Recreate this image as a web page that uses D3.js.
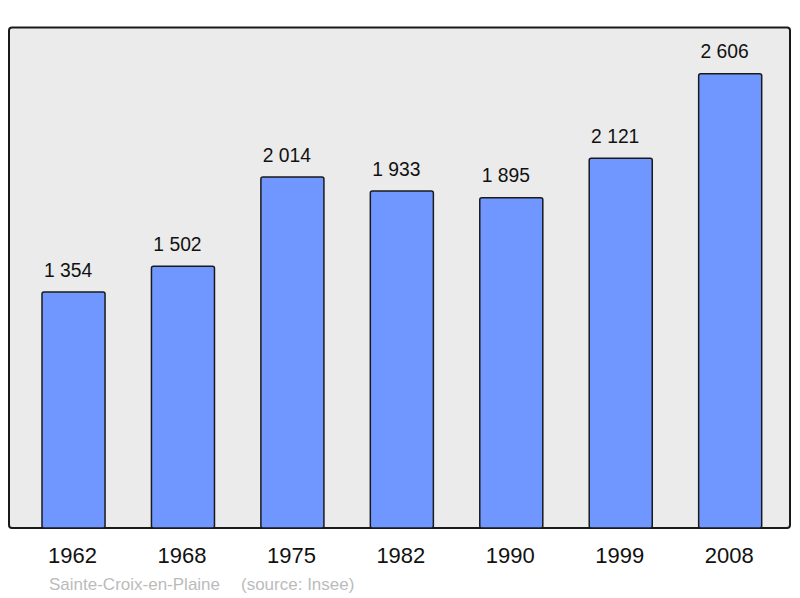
<!DOCTYPE html>
<html><head><meta charset="utf-8">
<script src="https://cdn.jsdelivr.net/npm/d3@7"></script>
<style>body{margin:0;background:#fff}svg{display:block}text{font-family:"Liberation Sans",Arial,sans-serif}</style>
</head><body>
<script>
const years = ["1962","1968","1975","1982","1990","1999","2008"];
const population = [1354,1502,2014,1933,1895,2121,2606];
const commune = "Sainte-Croix-en-Plaine";
const source = "(source: Insee)";

const W=800,H=598;
const svg=d3.select("body").append("svg").attr("width",W).attr("height",H);
const panel={x0:9,x1:790,y0:27.5,y1:528};
svg.append("rect").attr("x",panel.x0).attr("y",panel.y0).attr("width",panel.x1-panel.x0).attr("height",panel.y1-panel.y0)
  .attr("rx",3).attr("fill","#ebebeb").attr("stroke","#1a1a1a").attr("stroke-width",2);

const x=d3.scaleBand().domain(years).range([18.8,784.9]).paddingInner(0.424).paddingOuter(0.212);
const y=d3.scaleLinear().domain([0,2871]).range([panel.y1,panel.y0]);
const fmt=v=>d3.format(",")(v).replace(/,/g," ");

svg.selectAll("rect.bar").data(population).enter().append("rect").attr("class","bar")
  .attr("x",(d,i)=>x(years[i])).attr("y",d=>y(d)).attr("width",x.bandwidth()).attr("height",d=>y(0)-y(d))
  .attr("rx",2).attr("fill","#7096ff").attr("stroke","#1a1a1a").attr("stroke-width",1.5);

svg.selectAll("text.val").data(population).enter().append("text").attr("class","val")
  .attr("x",(d,i)=>x(years[i])+x.bandwidth()/2-5.5).attr("y",d=>y(d)-15.3)
  .attr("text-anchor","middle").attr("font-size",19.3).attr("fill","#111").text(fmt);

const axis=d3.axisBottom(x).tickSize(0).tickPadding(0);
const g=svg.append("g").attr("transform",`translate(0,${panel.y1})`).call(axis);
g.select(".domain").remove();
g.selectAll("text").attr("font-size",22).attr("fill","#111").attr("dy",null).attr("y",35)
  .attr("x",-1).style("font-family",'"Liberation Sans",Arial,sans-serif');

svg.append("text").attr("x",49).attr("y",590).attr("font-size",17).attr("fill","#bbbbbb").text(commune);
svg.append("text").attr("x",241).attr("y",590).attr("font-size",17).attr("fill","#bbbbbb").text(source);
</script>
</body></html>
